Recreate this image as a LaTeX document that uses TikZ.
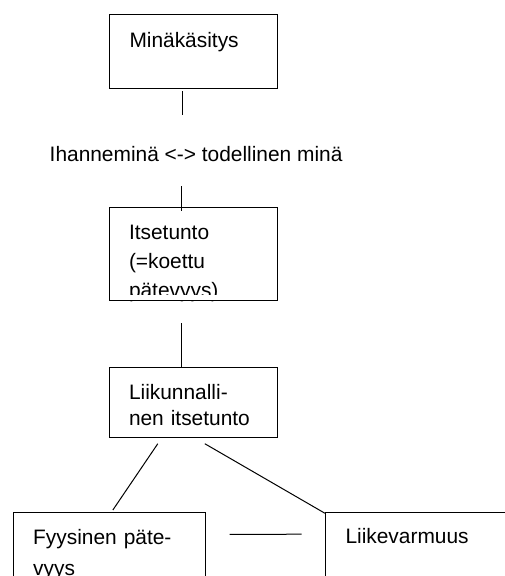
\documentclass[tikz,border=0pt]{standalone}
\usepackage{fontspec}
\setmainfont{Liberation Sans}
\usepackage{tikz}
\newcommand{\diagfont}{\fontsize{20.9}{28.7}\selectfont}
\tikzset{
  conceptbox/.style={draw=black,line width=1pt,anchor=north west,align=left,inner xsep=20pt,inner ysep=0pt,text width=128pt,text height=33pt,font=\diagfont},
  plaintext/.style={inner sep=0pt,font=\diagfont},
  link/.style={line width=1pt,draw=black}
}

\begin{document}
\begin{tikzpicture}[x=1pt,y=-1pt]
\useasboundingbox (0,0) rectangle (505,576);
% Upper column
\node[conceptbox,text depth=40.5pt] (mina) at (109,14) {Minäkäsitys};
\node[plaintext,anchor=base west] (ihanne) at (49.5,161) {Ihanneminä <-> todellinen minä};
\node[conceptbox,text height=32.5pt,text depth=61pt] (itse) at (108.5,206.7) {Itsetunto\\(=koettu\\pätevyys)};
\fill[white] ([shift={(1pt,1.1pt)}]itse.south west) rectangle ([shift={(-1pt,6.2pt)}]itse.south east);
\node[conceptbox,text height=32.7pt,text depth=37.3pt,font=\fontsize{20.9}{25.8}\selectfont] (liik) at (108.5,366.7) {Liikunnalli-\\nen itsetunto};
\draw[link,shorten <=2.5pt,shorten >=31pt] ([xshift=-11.5pt]mina.south) -- ([xshift=-11.5pt]mina.south |- ihanne.north);
\draw[link,shorten <=25pt,shorten >=-4.3pt] ([xshift=-11.5pt]itse.north |- ihanne.south) -- ([xshift=-11.5pt]itse.north);
\draw[link,shorten <=22pt] ([xshift=-11.5pt]itse.south) -- ([xshift=-11.5pt]liik.north);

% Lower row
\node[conceptbox,text width=152.3pt,text height=31.8pt,text depth=80pt,font=\fontsize{20.9}{31.5}\selectfont] (fyys) at (12.7,511.7) {Fyysinen päte-\\vyys};
\node[conceptbox,text width=160pt,text height=31.8pt,text depth=80pt] (varm) at (325,511.5) {Liikevarmuus};
\draw[link] ([xshift=-35.2pt,yshift=-6pt]liik.south) -- ([xshift=3.5pt,yshift=1.7pt]fyys.north);
\draw[link] ([xshift=11.8pt,yshift=-6pt]liik.south) -- ([yshift=-1.8pt]varm.north west);
\draw[link] ([shift={(23.7pt,-22.7pt)}]fyys.north east) -- ([shift={(-23.3pt,-22.7pt)}]varm.north west);
\end{tikzpicture}
\end{document}
